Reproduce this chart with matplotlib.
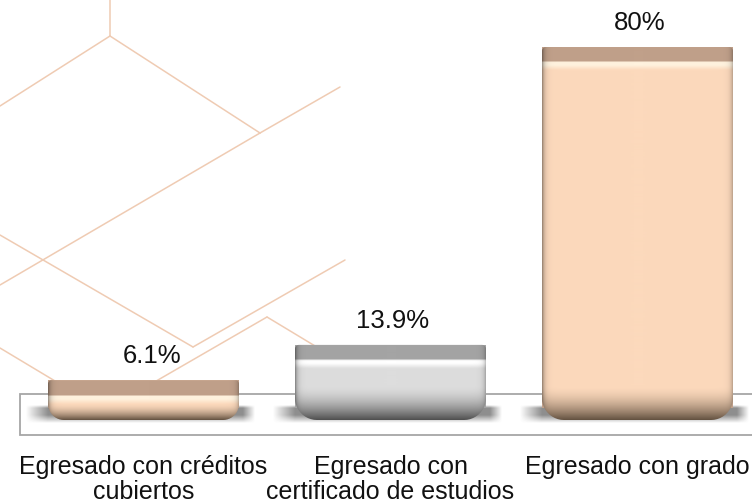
import numpy as np
import matplotlib
matplotlib.use("Agg")
import matplotlib.pyplot as plt
from matplotlib.patches import Polygon, Rectangle
from matplotlib.colors import to_rgb

# ---------------- data ----------------
categories = ["Egresado con créditos\ncubiertos",
              "Egresado con\ncertificado de estudios",
              "Egresado con grado"]
values = [6.1, 13.9, 80.0]
value_labels = ["6.1%", "13.9%", "80%"]
bar_palette = ["peach", "grey", "peach"]

# ---------------- style ----------------
PALETTES = {
    "peach": dict(cap="#c0a08a", hl="#fff2de", body="#fcd9bc", dark="#62503f", face="#fcd9bc"),
    "grey": dict(cap="#a4a4a4", hl="#ffffff", body="#dddddd", dark="#4e4e4e", face="#dddddd"),
}
FONT = ["Liberation Sans", "DejaVu Sans"]
LINE_COL = "#efcbb3"
FS_VAL = 18.5
FS_CAT = 18

W_PX, H_PX = 752, 503
fig = plt.figure(figsize=(W_PX / 100, H_PX / 100), dpi=100)
fig.patch.set_facecolor("white")

# ---------------- decorative background lines (pixel space) ----------------
bg = fig.add_axes([0, 0, 1, 1], zorder=0)
bg.set_xlim(0, W_PX)
bg.set_ylim(H_PX, 0)
bg.axis("off")
deco = [
    [(110, 0), (110, 36)],
    [(110, 36), (0, 106)],
    [(110, 36), (260, 133)],
    [(260, 133), (340, 87)],
    [(260, 133), (0, 285)],
    [(0, 235), (193, 347)],
    [(193, 347), (345, 260)],
    [(0, 348), (70, 390)],
    [(132, 395), (267, 317)],
    [(267, 317), (330, 355)],
]
for seg in deco:
    xs, ys = zip(*seg)
    bg.plot(xs, ys, color=LINE_COL, lw=1.1, solid_capstyle="round")

# ---------------- main axes ----------------
AX_L, AX_R, AX_T, AX_B = 20, 761, 0, 435
ax = fig.add_axes([AX_L / W_PX, (H_PX - AX_B) / H_PX,
                   (AX_R - AX_L) / W_PX, (AX_B - AX_T) / H_PX], zorder=1)
ax.patch.set_alpha(0)
YMIN, YMAX = -6.10, 90.43
XMIN, XMAX = -0.5, 2.5
PXX = (AX_R - AX_L) / (XMAX - XMIN)
PXY = (AX_B - AX_T) / (YMAX - YMIN)
for s in ax.spines.values():
    s.set_visible(False)
ax.set_yticks([])

x = np.arange(len(categories))
bar_w = 191 / PXX
bars = ax.bar(x, values, width=bar_w,
              color=[PALETTES[p]["cap"] for p in bar_palette],
              zorder=2.5, linewidth=0)

# floor (plot area)
floor_top = 3.0
ax.add_patch(Rectangle((XMIN, YMIN), XMAX - XMIN, floor_top - YMIN,
                       facecolor="white", edgecolor="#a6a6a6", lw=1.3,
                       zorder=1, clip_on=False))

DEPTH_PX = 12.5
CAP_PX = 15.0


def rounded_poly(x0, x1, yb, yt, rt, rb, n=12):
    pts = []
    cx, cy = x1 - rt / PXX, yt - rt / PXY
    for a in np.linspace(0, np.pi / 2, n):
        pts.append((cx + rt / PXX * np.cos(a), cy + rt / PXY * np.sin(a)))
    cx, cy = x0 + rt / PXX, yt - rt / PXY
    for a in np.linspace(np.pi / 2, np.pi, n):
        pts.append((cx + rt / PXX * np.cos(a), cy + rt / PXY * np.sin(a)))
    cx, cy = x0 + rb / PXX, yb + rb / PXY
    for a in np.linspace(np.pi, 1.5 * np.pi, n):
        pts.append((cx + rb / PXX * np.cos(a), cy + rb / PXY * np.sin(a)))
    cx, cy = x1 - rb / PXX, yb + rb / PXY
    for a in np.linspace(1.5 * np.pi, 2 * np.pi, n):
        pts.append((cx + rb / PXX * np.cos(a), cy + rb / PXY * np.sin(a)))
    return pts


def bar_image(Hp, Wp, pal):
    cap = np.array(to_rgb(pal["cap"]))
    hl = np.array(to_rgb(pal["hl"]))
    body = np.array(to_rgb(pal["body"]))
    dark = np.array(to_rgb(pal["dark"]))
    t = np.arange(Hp) + 0.5
    col = np.empty((Hp, 3))
    for i, ti in enumerate(t):
        if ti < 1.5:
            c = np.clip(cap * 1.04, 0, 1)
        elif ti < CAP_PX:
            c = cap
        elif ti < CAP_PX + 1:
            c = 0.5 * cap + 0.5 * hl
        elif ti < CAP_PX + 4:
            c = hl
        elif ti < CAP_PX + 9:
            f = (ti - CAP_PX - 4) / 5
            c = hl * (1 - f) + body * f
        else:
            c = body
        col[i] = c
    G = min(34.0, 0.8 * (Hp - CAP_PX - 4))
    s = np.clip((t - (Hp - G)) / G, 0, 1)
    f = s ** 1.7
    col = col * (1 - f[:, None]) + dark * f[:, None]
    u = np.arange(Wp) + 0.5
    shade = 1 - 0.45 * np.exp(-u / 2.5) - 0.28 * np.exp(-(Wp - u) / 2.5)
    img = col[:, None, :] * shade[None, :, None]
    return np.clip(img, 0, 1)


def shadow_image(Hs, Ws, left, right):
    t = np.arange(Hs) + 0.5
    v = np.clip(t / 3.0, 0, 1) * np.clip((Hs - t) / 8.0, 0, 1)
    u = np.arange(Ws) + 0.5
    h = np.clip(u / left, 0, 1) * np.clip((Ws - u) / right, 0, 1)
    a = 0.8 * v[:, None] * h[None, :]
    img = np.zeros((Hs, Ws, 4))
    img[..., :3] = 0.45
    img[..., 3] = a
    return img


for rect, pname in zip(bars, bar_palette):
    pal = PALETTES[pname]
    x0 = rect.get_x()
    w = rect.get_width()
    top = rect.get_y() + rect.get_height()
    bottom = rect.get_y() - DEPTH_PX / PXY
    Hp = int(round((top - bottom) * PXY))
    Wp = int(round(w * PXX))

    # shadow
    sl, sr = 22, 16
    s_top = bottom + 15 / PXY
    s_bot = bottom - 3 / PXY
    simg = shadow_image(18, Wp + sl + sr, sl, 12)
    ax.imshow(simg, extent=(x0 - sl / PXX, x0 + w + sr / PXX, s_bot, s_top),
              aspect="auto", origin="upper", zorder=2, interpolation="bilinear")

    # bar body
    img = bar_image(Hp, Wp, pal)
    rb = min(22.0, 0.4 * Hp)
    clip = Polygon(rounded_poly(x0, x0 + w, bottom, top, 4.0, rb),
                   closed=True, transform=ax.transData)
    im = ax.imshow(img, extent=(x0, x0 + w, bottom, top), aspect="auto",
                   origin="upper", zorder=3, interpolation="bilinear")
    im.set_clip_path(clip)

# value labels
label_dx_px = [9, 2, 2]
for rect, lbl, dx in zip(bars, value_labels, label_dx_px):
    cx = rect.get_x() + rect.get_width() / 2
    top = rect.get_y() + rect.get_height()
    ax.annotate(lbl, (cx, top), xytext=(dx * 0.72, 17 * 0.72),
                textcoords="offset points", ha="center", va="baseline",
                fontsize=FS_VAL, family=FONT, color="#111111", zorder=5)

ax.set_xlim(XMIN, XMAX)
ax.set_ylim(YMIN, YMAX)
ax.set_xticks(x)
ax.set_xticklabels(categories, fontsize=FS_CAT, family=FONT, color="#111111")
ax.tick_params(axis="x", length=0, pad=14.5)
for t in ax.get_xticklabels():
    t.set_linespacing(1.05)
# keep the last label inside the figure (reference ends at ~749 px)
ax.get_xticklabels()[-1].set_x(2 - 1.5 / PXX)

fig.savefig("out.png", dpi=100)
